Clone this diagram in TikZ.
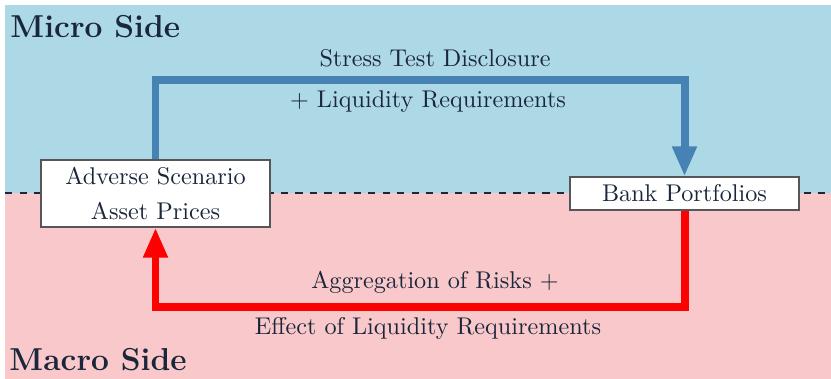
\documentclass[tikz,border=0pt]{standalone}
\usetikzlibrary{arrows.meta}
\definecolor{microbg}{RGB}{173,216,230}
\definecolor{macrobg}{RGB}{249,200,202}
\definecolor{inkcol}{RGB}{26,38,58}
\definecolor{flowblue}{RGB}{70,130,180}
\definecolor{boxedge}{RGB}{85,85,90}
\tikzset{
  unitbox/.style={draw=boxedge, line width=0.5pt, fill=white, text=inkcol,
    minimum width=94.6pt, align=center, inner sep=0pt},
  flowlbl/.style={text=inkcol, inner sep=0pt},
  sidetitle/.style={text=inkcol, font=\fontsize{13.1}{15}\selectfont\bfseries, inner sep=0pt, anchor=base west},
  flow/.style={line width=3.3pt, -{Triangle[length=12.4pt,width=9.5pt]}},
}
\begin{document}
\begin{tikzpicture}[x=0.4132pt, y=-0.4132pt]
\useasboundingbox (0,0) rectangle (831,379);
% two halves of the picture
\fill[microbg] (5,5) rectangle (831,193);
\fill[macrobg] (5,193) rectangle (831,379);
\draw[inkcol, line width=0.5pt, dashed] (5,193) -- (831,193);
\node[sidetitle] (micro) at (10,38) {Micro Side};
\node[sidetitle] (macro) at (9,371) {Macro Side};
% boxes
\node[unitbox, minimum height=27.7pt] (adv) at (155.5,193.5) {Adverse Scenario\\[2.3pt]Asset Prices};
\node[unitbox, minimum height=13.6pt] (bank) at (684.5,193.5) {Bank Portfolios};
% routing levels of the two loops
\coordinate (top) at (0,80);
\coordinate (bot) at (0,307);
\draw[flow, flowblue] (adv.north) -- (adv.north |- top) -- (bank.north |- top) -- (bank.north);
\draw[flow, red] (bank.south) -- (bank.south |- bot) -- (adv.south |- bot) -- (adv.south);
% loop labels
\node[flowlbl] (l1) at (435,58) {Stress Test Disclosure};
\node[flowlbl] (l2) at (428,102) {+ Liquidity Requirements};
\node[flowlbl] (l3) at (435,282) {Aggregation of Risks +};
\node[flowlbl] (l4) at (428,328) {Effect of Liquidity Requirements};
\end{tikzpicture}
\end{document}
